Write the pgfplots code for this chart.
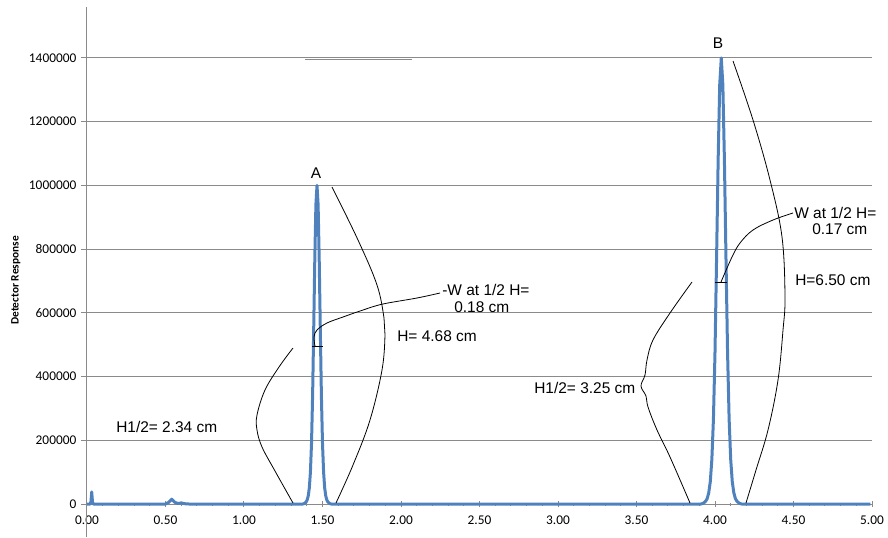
\documentclass[border=0pt]{standalone}
\usepackage{fontspec}
\setmainfont{Liberation Sans}
\newfontfamily\carlito{Carlito}
\usepackage{pgfplots}
\usepackage{pgfplotstable}
\pgfplotsset{compat=1.18}
\definecolor{xlBlue}{HTML}{4F81BD}
\definecolor{xlGrid}{HTML}{8A8A8A}

% detector trace
\pgfplotstableread{
x y
0.000 0
0.020 0
0.025 6000
0.030 38000
0.035 6000
0.040 0
0.500 0
0.520 5000
0.540 15000
0.560 5000
0.580 1500
0.600 3500
0.620 1000
0.650 0
1.374 0
1.381 1000
1.388 3000
1.395 6000
1.402 12000
1.409 25000
1.416 50000
1.423 100000
1.430 190000
1.437 340000
1.444 550000
1.451 770000
1.458 940000
1.465 1000000
1.472 940000
1.479 770000
1.486 550000
1.493 340000
1.500 190000
1.507 100000
1.514 50000
1.521 25000
1.528 12000
1.535 6000
1.542 3000
1.549 1000
1.556 0
3.910 0
3.920 1400
3.930 4200
3.940 8400
3.950 16800
3.960 35000
3.970 70000
3.980 140000
3.990 266000
4.000 476000
4.010 770000
4.020 1078000
4.030 1316000
4.040 1400000
4.050 1316000
4.060 1078000
4.070 770000
4.080 476000
4.090 266000
4.100 140000
4.110 70000
4.120 35000
4.130 16800
4.140 8400
4.150 4200
4.160 1400
4.170 0
4.990 0
}\chromdata

\begin{document}
\begin{tikzpicture}[
  note/.style={font=\fontsize{11.6}{13}\selectfont, inner sep=0pt, anchor=base west},
  lead/.style={black, line width=0.6pt},
]
\useasboundingbox (-65.25pt,-24.75pt) rectangle (600.75pt,378pt);
\begin{axis}[
  at={(0,0)}, anchor=south west,
  scale only axis, width=588.75pt, height=372.75pt,
  xmin=0, xmax=5, ymin=0, ymax=1560000,
  axis lines*=left,
  axis line style={xlGrid, line width=0.75pt},
  xtick={0,0.5,1,1.5,2,2.5,3,3.5,4,4.5,5}, minor x tick num=4,
  ytick={0,200000,400000,600000,800000,1000000,1200000,1400000},
  ymajorgrids, grid style={xlGrid, line width=0.75pt},
  xtick align=center, ytick align=outside,
  major tick length=4.5pt, minor tick length=2.25pt,
  tick style={xlGrid, line width=0.75pt},
  scaled y ticks=false,
  xticklabel style={yshift=-3pt, /pgf/number format/.cd, fixed, fixed zerofill, precision=2},
  yticklabel style={/pgf/number format/.cd, fixed, 1000 sep={}},
  /pgf/number format/assume math mode=true,
  tick label style={font=\carlito\fontsize{10}{12}\selectfont},
  ylabel={Detector Response},
  ylabel style={at={(axis description cs:-0.0905,0.45)}, anchor=center,
    font=\carlito\bfseries\fontsize{8.5}{10}\selectfont},
  clip=false,
]
\addplot[xlBlue, line width=2.25pt, line join=round] table[x=x, y=y] {\chromdata};
\end{axis}

% annotations, placed in the pixel frame of the original figure
\begin{scope}[x=0.75pt, y=-0.75pt, shift={(-65.25pt,378pt)}]
\draw[xlGrid, line width=0.75pt] (86.6,504) -- (86.6,537);
\draw[xlGrid, line width=0.9pt] (305,59.3) -- (412,59.3);

% peak A
\draw[lead] plot[smooth, tension=0.6] coordinates {(332,187) (358,240) (377,285) (384,318) (385,335) (382,370) (370,420) (353,465) (336,503)};
\draw[lead] plot[smooth, tension=0.6] coordinates {(293,348) (279,367) (265,390) (257,415) (257,430) (262,447) (275,471) (293,503)};
\draw[lead] (312,346) -- (323,346);
\draw[lead] plot[smooth, tension=0.6] coordinates {(315,346) (314,337) (317,330) (327,323) (343,317) (363,310) (383,304) (417,298) (440,293)};
\node[note, anchor=base] at (316,178.5) {A};
\node[note] at (397,341.5) {H= 4.68 cm};
\node[note] at (442,295.5) {-W at 1/2 H=};
\node[note] at (454,312.5) {0.18 cm};
\node[note] at (116,432.5) {H1/2= 2.34 cm};

% peak B
\draw[lead] plot[smooth, tension=0.6] coordinates {(733,61) (753,120) (770,180) (782,237) (785,297) (783,330) (778,380) (768,430) (756,470) (746,503)};
\draw[lead] plot[smooth, tension=0.6] coordinates {(692,282) (670,313) (653,340) (647,360) (645,375) (641,386) (646,396) (648,407) (657,430) (670,457) (690,503)};
\draw[lead] (715,282) -- (727,282);
\draw[lead] plot[smooth, tension=0.6] coordinates {(721,282) (732,257) (740,243) (753,230) (773,220) (793,213)};
\node[note, anchor=base] at (718,48.5) {B};
\node[note] at (795,285.5) {H=6.50 cm};
\node[note] at (794,218.5) {W at 1/2 H=};
\node[note] at (812,234.5) {0.17 cm};
\node[note] at (534,393.5) {H1/2= 3.25 cm};
\end{scope}
\end{tikzpicture}
\end{document}
